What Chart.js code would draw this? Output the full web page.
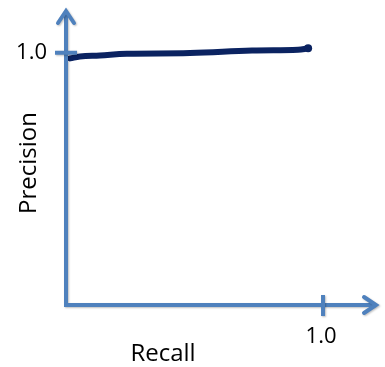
<!DOCTYPE html>
<html>
<head>
<meta charset="utf-8">
<script src="https://cdn.jsdelivr.net/npm/chart.js@4.4.0/dist/chart.umd.min.js"></script>
<style>
  html, body { margin: 0; padding: 0; background: #fff; }
  #wrap { width: 385px; height: 367px; }
</style>
</head>
<body>
<div id="wrap"><canvas id="myChart" width="385" height="367"></canvas></div>
<script>
// Hand-drawn precision/recall curve
const recall = [0.016, 0.054, 0.132, 0.237, 0.482, 0.724, 0.903, 0.942];
const precision = [0.978, 0.986, 0.990, 0.996, 0.999, 1.009, 1.012, 1.018];

// Axis labels and the single tick on each axis
const xTitle = 'Recall';
const yTitle = 'Precision';
const xTicks = [1.0];
const yTicks = [1.0];

const axisColor = '#4f81bd';
const curveColor = '#0b2361';

// Draw the arrowed axes, cross ticks and labels
const sketchAxes = {
  id: 'sketchAxes',
  afterDatasetsDraw(chart) {
    const { ctx, chartArea, scales } = chart;
    const x0 = scales.x.getPixelForValue(0);
    const y0 = scales.y.getPixelForValue(0);
    const xEnd = chartArea.right;
    const yEnd = chartArea.top;

    ctx.save();
    ctx.strokeStyle = axisColor;
    ctx.lineWidth = 4;
    ctx.lineCap = 'butt';
    ctx.lineJoin = 'miter';
    ctx.shadowColor = 'rgba(0,0,0,0.25)';
    ctx.shadowBlur = 2;
    ctx.shadowOffsetX = 1;
    ctx.shadowOffsetY = 1;

    // axes lines
    ctx.beginPath();
    ctx.moveTo(x0, yEnd + 2);
    ctx.lineTo(x0, y0);
    ctx.lineTo(xEnd - 2, y0);
    ctx.stroke();

    // arrow heads
    ctx.lineCap = 'round';
    ctx.beginPath();
    ctx.moveTo(x0 - 8, yEnd + 13);
    ctx.lineTo(x0, yEnd + 1);
    ctx.lineTo(x0 + 8, yEnd + 13);
    ctx.moveTo(xEnd - 13, y0 - 8);
    ctx.lineTo(xEnd - 1, y0);
    ctx.lineTo(xEnd - 13, y0 + 8);
    ctx.stroke();

    // ticks crossing the axes
    ctx.lineCap = 'butt';
    ctx.beginPath();
    yTicks.forEach(v => {
      const py = scales.y.getPixelForValue(v);
      ctx.moveTo(x0 - 11, py);
      ctx.lineTo(x0 + 11, py);
    });
    xTicks.forEach(v => {
      const px = scales.x.getPixelForValue(v);
      ctx.moveTo(px, y0 - 10);
      ctx.lineTo(px, y0 + 11);
    });
    ctx.stroke();
    ctx.restore();

    // text
    ctx.save();
    ctx.fillStyle = '#000';
    ctx.font = '22px "Open Sans"';
    ctx.textBaseline = 'middle';
    ctx.textAlign = 'right';
    yTicks.forEach(v => {
      ctx.fillText(v.toFixed(1), x0 - 19, scales.y.getPixelForValue(v));
    });
    ctx.textAlign = 'center';
    xTicks.forEach(v => {
      ctx.fillText(v.toFixed(1), scales.x.getPixelForValue(v) - 2, y0 + 32);
    });

    ctx.font = '24px "Open Sans"';
    ctx.fillText(xTitle, 163, 354);
    ctx.translate(29, 163);
    ctx.rotate(-Math.PI / 2);
    ctx.fillText(yTitle, 0, 0);
    ctx.restore();
  }
};

// Big dot where the pen stopped
const penEnd = {
  id: 'penEnd',
  afterDatasetsDraw(chart) {
    const meta = chart.getDatasetMeta(0);
    const last = meta.data[meta.data.length - 1];
    const { ctx } = chart;
    ctx.save();
    ctx.fillStyle = curveColor;
    ctx.beginPath();
    ctx.arc(last.x, last.y, 4, 0, Math.PI * 2);
    ctx.fill();
    ctx.restore();
  }
};

const ctx = document.getElementById('myChart').getContext('2d');

new Chart(ctx, {
  type: 'line',
  data: {
    datasets: [{
      data: recall.map((r, i) => ({ x: r, y: precision[i] })),
      borderColor: curveColor,
      borderWidth: 6,
      borderCapStyle: 'round',
      borderJoinStyle: 'round',
      tension: 0.4,
      pointRadius: 0,
      fill: false
    }]
  },
  options: {
    responsive: false,
    animation: false,
    layout: { padding: { left: 66, right: 8, top: 10, bottom: 62 } },
    plugins: { legend: { display: false }, tooltip: { enabled: false } },
    scales: {
      x: { type: 'linear', min: 0, max: 1.21, display: false },
      y: { type: 'linear', min: 0, max: 1.17, display: false }
    }
  },
  plugins: [sketchAxes, penEnd]
});
</script>
</body>
</html>
